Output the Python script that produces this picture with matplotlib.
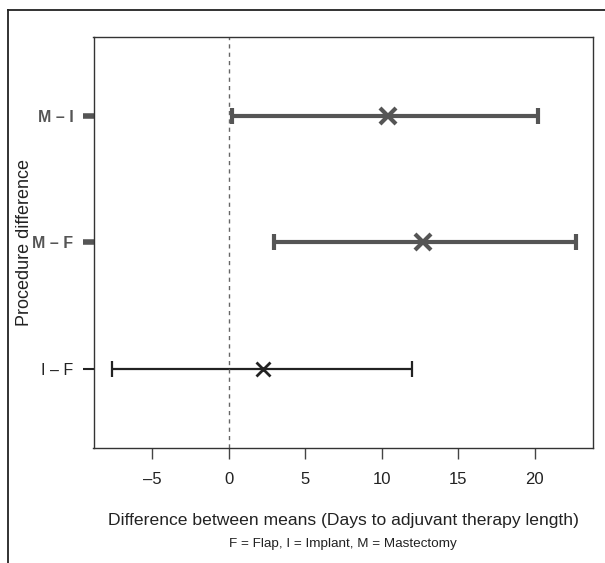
import matplotlib
matplotlib.use("Agg")
import matplotlib.pyplot as plt
from matplotlib.lines import Line2D

# Tukey-style comparison data (days to adjuvant therapy)
comparisons = ["I \u2013 F", "M \u2013 F", "M \u2013 I"]
mean_diff = [2.23, 12.68, 10.41]
lower = [-7.62, 2.95, 0.24]
upper = [12.0, 22.66, 20.23]
x_ticks = [-5, 0, 5, 10, 15, 20]

plt.rcParams['font.family'] = ['Liberation Sans', 'DejaVu Sans']

fig = plt.figure(figsize=(6.05, 5.63), dpi=100)
ax = fig.add_axes([93.5 / 605, 1 - 447.5 / 563, 499 / 605, 410.5 / 563])

# Outer frame (left and top only, as in the cropped source)
fig.add_artist(Line2D([8 / 605, 8 / 605], [0, 1 - 10 / 563], transform=fig.transFigure,
                      color="#222222", lw=1.3))
fig.add_artist(Line2D([8 / 605, 1], [1 - 10 / 563, 1 - 10 / 563], transform=fig.transFigure,
                      color="#222222", lw=1.3))

styles = [
    {"color": "#222222", "lw": 1.6, "ms": 10, "mew": 2.0},
    {"color": "#555555", "lw": 3.0, "ms": 11, "mew": 3.0},
    {"color": "#555555", "lw": 3.0, "ms": 11, "mew": 3.0},
]

for i, name in enumerate(comparisons):
    st = styles[i]
    y = i + 1
    ax.errorbar(mean_diff[i], y,
                xerr=[[mean_diff[i] - lower[i]], [upper[i] - mean_diff[i]]],
                fmt="none", ecolor=st["color"], elinewidth=st["lw"],
                capsize=6, capthick=st["lw"])
    ax.plot(mean_diff[i], y, marker="x", color=st["color"], ms=st["ms"],
            mew=st["mew"], ls="none")

ax.axvline(0, color="#666666", lw=1.0, ls=(0, (3, 3)))

ax.set_xlim(-8.84, 23.77)
ax.set_ylim(0.38, 3.62)

ax.set_xticks(x_ticks)
ax.set_xticklabels([str(t).replace("-", "\u2013") for t in x_ticks])
ax.tick_params(axis="x", length=8, width=1.0, color="#444444", pad=10,
               labelsize=12, labelcolor="#222222")

ax.set_yticks([1, 2, 3])
ax.set_yticklabels(comparisons)
ax.tick_params(axis="y", length=8, pad=6.5, labelsize=11.5)
ytl = ax.get_yticklabels()
yticks = ax.yaxis.get_major_ticks()
for i, lab in enumerate(ytl):
    if i == 0:
        lab.set_color("#222222")
        yticks[i].tick1line.set_markeredgewidth(1.5)
        yticks[i].tick1line.set_markeredgecolor("#222222")
    else:
        lab.set_color("#555555")
        lab.set_fontweight("bold")
        yticks[i].tick1line.set_markeredgewidth(4)
        yticks[i].tick1line.set_markeredgecolor("#555555")

for sp in ax.spines.values():
    sp.set_color("#333333")
    sp.set_linewidth(1.0)

ax.set_ylabel("Procedure difference", fontsize=13, color="#222222")
ax.yaxis.set_label_coords((33 - 93.5) / 499, 0.5)

fig.text(343 / 605, 1 - 521 / 563, "Difference between means (Days to adjuvant therapy length)",
         ha="center", va="center", fontsize=12.6, color="#222222")
fig.text(343 / 605, 1 - 543.5 / 563, "F = Flap, I = Implant, M = Mastectomy",
         ha="center", va="center", fontsize=9.7, color="#222222")

fig.savefig("out.png", dpi=100)
